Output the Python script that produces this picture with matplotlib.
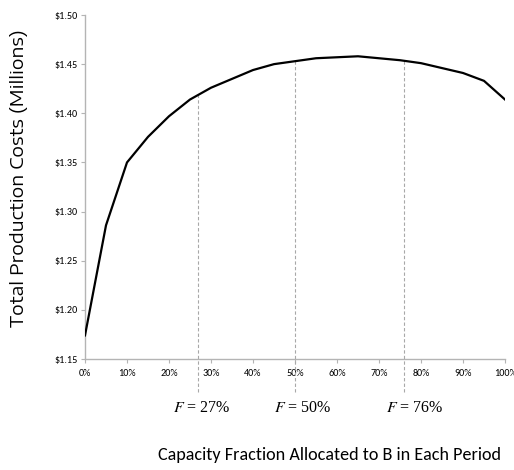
import matplotlib
matplotlib.use("Agg")
import matplotlib.pyplot as plt
from matplotlib.ticker import FuncFormatter, MultipleLocator

# Share of capacity given to product B (%) and resulting production cost ($M)
fraction_pct = [0, 5, 10, 15, 20, 25, 30, 35, 40, 45, 50,
                55, 60, 65, 70, 75, 80, 85, 90, 95, 100]
total_cost = [1.174, 1.286, 1.350, 1.376, 1.397, 1.414, 1.426, 1.435, 1.444, 1.450, 1.453,
              1.456, 1.457, 1.458, 1.456, 1.454, 1.451, 1.446, 1.441, 1.433, 1.414]

# Highlighted allocation fractions
marked_f = [27, 50, 76]

narrow = ["Carlito", "Archivo Narrow", "DejaVu Sans"]

fig = plt.figure(figsize=(5.14, 4.70), dpi=100)
ax = fig.add_axes([85 / 514, 1 - 359 / 470, 420 / 514, 344 / 470])

ax.plot(fraction_pct, total_cost, color="black", lw=1.6, solid_joinstyle="miter", zorder=3)

ax.set_xlim(0, 100)
ax.set_ylim(1.15, 1.50)
ax.xaxis.set_major_locator(MultipleLocator(10))
ax.yaxis.set_major_locator(MultipleLocator(0.05))
ax.xaxis.set_major_formatter(FuncFormatter(lambda v, p: f"{v:.0f}%"))
ax.yaxis.set_major_formatter(FuncFormatter(lambda v, p: f"${v:.2f}"))

spine_col = "#b4b4b4"
for side in ("top", "right"):
    ax.spines[side].set_visible(False)
for side in ("left", "bottom"):
    ax.spines[side].set_color(spine_col)
    ax.spines[side].set_linewidth(1.0)
ax.tick_params(axis="both", colors=spine_col, length=3, width=0.8, direction="out",
               labelcolor="black", labelsize=7.3)
ax.tick_params(axis="y", pad=2.5)
ax.tick_params(axis="x", pad=4)
for lab in ax.get_xticklabels() + ax.get_yticklabels():
    lab.set_family(narrow)

# Dashed guides from the curve down past the axis
trans = ax.get_xaxis_transform()
bottom_frac = -(392 - 359) / 344
label_shift = [0.9, 1.9, 2.6]
for f, dx in zip(marked_f, label_shift):
    # cost at f by linear interpolation along the plotted polyline
    for i in range(len(fraction_pct) - 1):
        x0, x1 = fraction_pct[i], fraction_pct[i + 1]
        if x0 <= f <= x1:
            y = total_cost[i] + (total_cost[i + 1] - total_cost[i]) * (f - x0) / (x1 - x0)
            break
    top_frac = (y - 1.15) / 0.35
    ax.plot([f, f], [bottom_frac, top_frac], transform=trans, color="#a8a8a8",
            lw=0.8, ls=(0, (3, 2)), clip_on=False, zorder=2)
    ax.text(f + dx, -(408 - 359) / 344, f"$F$ = {f}%", transform=trans,
            ha="center", va="center", fontsize=11.5, family="Liberation Serif",
            math_fontfamily="stix")

fig.text(329 / 514, 1 - 455 / 470, "Capacity Fraction Allocated to B in Each Period",
         ha="center", va="center", fontsize=13.1, family=narrow)
fig.text(19 / 514, 1 - 178 / 470, "Total Production Costs (Millions)",
         ha="center", va="center", rotation=90, fontsize=13.2,
         family=["Encode Sans Expanded", "DejaVu Sans"])

fig.savefig("out.png", dpi=100)
